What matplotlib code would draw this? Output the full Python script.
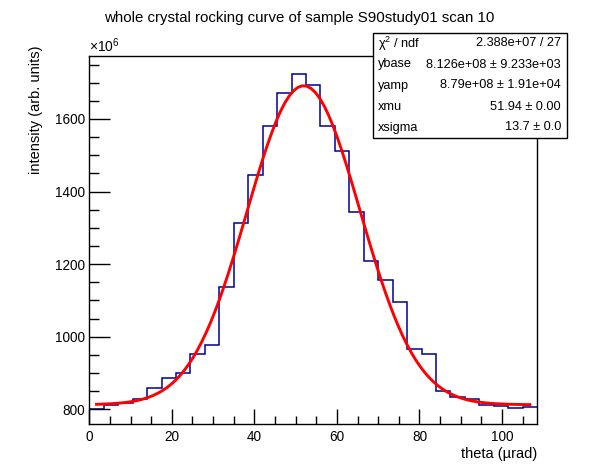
import numpy as np
import matplotlib.pyplot as plt

plt.rcParams['font.family'] = ['Liberation Sans', 'DejaVu Sans']
plt.rcParams['mathtext.default'] = 'regular'

# -------------------------------
# Data (intensity in units of 1e6)
# -------------------------------
bin_width = 3.5
counts = [801, 812, 818, 827, 858, 885, 899, 951, 976, 1136,
          1312, 1445, 1581, 1671, 1723, 1694, 1581, 1512, 1343, 1209,
          1156, 1095, 965, 951, 850, 833, 827, 812, 809, 803, 806]
edges = np.arange(len(counts) + 1) * bin_width

# fit result (gaus + constant), as shown in the stat box
ybase = 812.6
yamp = 879.0
xmu = 51.94
xsigma = 13.7

stat_names = [r'$\chi^{2}$ / ndf', 'ybase', 'yamp', 'xmu', 'xsigma']
stat_values = ['2.388e+07 / 27', '8.126e+08 ± 9.233e+03',
               '8.79e+08 ± 1.91e+04', '51.94 ± 0.00', '13.7 ± 0.0']

# -------------------------------
# Plot
# -------------------------------
fig = plt.figure(figsize=(5.96, 4.72), dpi=100)
ax = fig.add_axes([0.1498, 0.101, 0.7514, 0.780])

ax.stairs(counts, edges, baseline=None, color='#000099', lw=1.1)

xf = np.linspace(edges[0] + bin_width / 2, edges[-1] - bin_width / 2, 100)
yf = ybase + yamp * np.exp(-0.5 * ((xf - xmu) / xsigma) ** 2)
ax.plot(xf, yf, color='red', lw=2.1)

ax.set_xlim(0, edges[-1])
ax.set_ylim(758.5, 1773)
ax.set_xticks(np.arange(0, 101, 20))
ax.set_xticks(np.arange(0, 108, 5), minor=True)
ax.set_yticks(np.arange(800, 1601, 200))
ax.set_yticks(np.arange(800, 1760, 50), minor=True)
ax.tick_params(which='both', direction='in', top=False, right=False,
               labelsize=9.8, width=1)
ax.tick_params(axis='x', which='major', length=11, pad=4)
ax.tick_params(axis='x', which='minor', length=5.5)
ax.tick_params(axis='y', which='major', length=15, pad=3)
ax.tick_params(axis='y', which='minor', length=7.5)
for s in ax.spines.values():
    s.set_linewidth(1)

ax.set_xlabel('theta (µrad)', fontsize=10.5, loc='right', labelpad=2)
ax.set_ylabel('intensity (arb. units)', fontsize=10.5, loc='top')
ax.yaxis.set_label_coords(-0.103, 1.03)
ax.text(0, 1.004, r'×10$^{6}$', transform=ax.transAxes, fontsize=10,
        ha='left', va='bottom')

fig.text(0.502, 0.962, 'whole crystal rocking curve of sample S90study01 scan 10',
         ha='center', va='center', fontsize=10.8)

# stat box
bx0, by0, bx1, by1 = 373 / 596, 1 - 138 / 472, 567 / 596, 1 - 33 / 472
fig.patches.append(plt.Rectangle((bx0, by0), bx1 - bx0, by1 - by0,
                                 transform=fig.transFigure, fc='white',
                                 ec='black', lw=1, zorder=5))
row_h = (by1 - by0) / len(stat_names)
for i, (name, val) in enumerate(zip(stat_names, stat_values)):
    yc = by1 - (i + 0.5) * row_h
    fig.text(bx0 + 5 / 596, yc, name, ha='left', va='center', fontsize=9.2, zorder=6)
    fig.text(bx1 - 6 / 596, yc, val, ha='right', va='center', fontsize=9.2, zorder=6)

plt.savefig('out.png', dpi=100)
